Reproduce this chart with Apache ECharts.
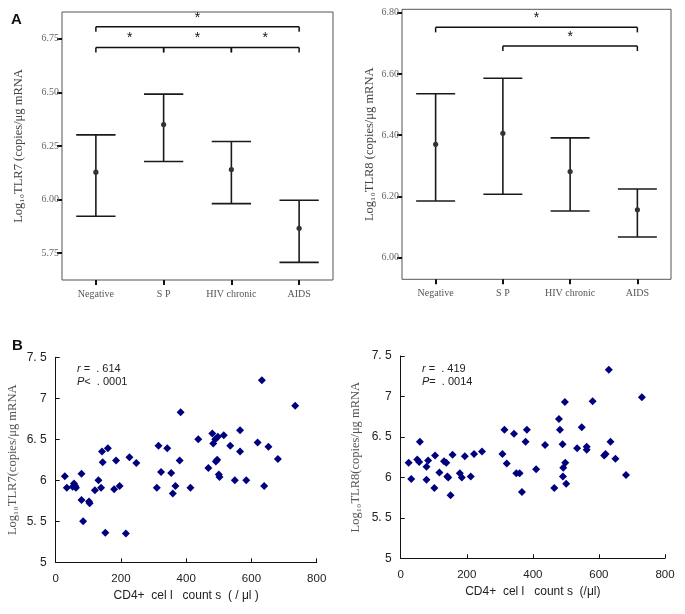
<!DOCTYPE html>
<html>
<head>
<meta charset="utf-8">
<script src="https://cdn.jsdelivr.net/npm/echarts@6/dist/echarts.min.js"></script>
<style>
html,body{margin:0;padding:0;background:#fff;}
#chart{width:685px;height:614px;}
</style>
</head>
<body>
<div id="chart"></div>
<script>
// ---------- Panel A data ----------
const categories = ['Negative', 'S P', 'HIV chronic', 'AIDS'];
const tlr7Mean  = [6.128, 6.350, 6.140, 5.866];
const tlr7Lower = [5.922, 6.178, 5.981, 5.707];
const tlr7Upper = [6.302, 6.492, 6.271, 5.997];
const tlr8Mean  = [6.370, 6.406, 6.281, 6.156];
const tlr8Lower = [6.185, 6.207, 6.152, 6.067];
const tlr8Upper = [6.535, 6.586, 6.391, 6.224];
// significance brackets: [fromCategory, toCategory, level]
const tlr7Brackets = [[0, 3, 6.806], [0, 1, 6.71], [1, 2, 6.71], [2, 3, 6.71]];
const tlr8Brackets = [[0, 3, 6.752], [1, 3, 6.691]];
const tlr7TickValues = [5.75, 6.00, 6.25, 6.50, 6.75];
const tlr8TickValues = [6.00, 6.20, 6.40, 6.60, 6.80];

// ---------- Panel B data: [CD4 count, log10 TLR] ----------
const tlr7Scatter = [
  [28,6.05],[34,5.91],[52,5.92],[56,5.96],[60,5.93],[62,5.91],[79,6.08],[79,5.76],[84,5.50],
  [102,5.74],[104,5.72],[120,5.88],[131,6.00],[139,5.91],[142,6.35],[144,6.22],[152,5.36],
  [160,6.39],[179,5.89],[185,6.24],[196,5.93],[215,5.35],[226,6.28],[247,6.21],[310,5.91],
  [315,6.42],[323,6.10],[342,6.39],[354,6.09],[359,5.84],[367,5.93],[380,6.24],[383,6.83],
  [413,5.91],[437,6.50],[468,6.15],[480,6.57],[483,6.45],[489,6.50],[491,6.23],[495,6.25],
  [497,6.53],[500,6.07],[502,6.04],[515,6.55],[535,6.42],[549,6.00],[565,6.61],[565,6.35],
  [584,6.00],[619,6.46],[632,7.22],[639,5.93],[652,6.41],[681,6.26],[734,6.91]
];
const tlr8Scatter = [
  [24,6.18],[32,5.98],[50,6.22],[56,6.19],[58,6.44],[78,6.13],[78,5.97],[83,6.21],[102,5.87],
  [104,6.27],[117,6.06],[131,6.20],[138,6.18],[141,6.01],[144,6.00],[151,5.78],[157,6.28],
  [179,6.05],[185,6.00],[194,6.26],[212,6.01],[222,6.29],[246,6.32],[308,6.29],[314,6.59],
  [321,6.17],[343,6.54],[350,6.05],[360,6.05],[367,5.82],[378,6.44],[382,6.59],[410,6.10],
  [437,6.40],[465,5.87],[479,6.72],[482,6.59],[490,6.41],[491,6.01],[492,6.12],[497,6.93],
  [498,6.18],[501,5.92],[534,6.36],[548,6.62],[563,6.38],[563,6.34],[581,6.94],[616,6.27],
  [620,6.29],[630,7.33],[635,6.44],[650,6.23],[682,6.03],[730,6.99]
];
const cd4Ticks = [0, 200, 400, 600, 800];

const serif = "'Liberation Serif','DejaVu Serif',serif";
const sans = "'Liberation Sans',Arial,sans-serif";

function errorBarItem(params, api) {
  const x = api.value(0);
  const pM = api.coord([x, api.value(1)]);
  const pLo = api.coord([x, api.value(2)]);
  const pHi = api.coord([x, api.value(3)]);
  const hw = api.size([1, 0])[0] * 0.29;
  const st = { stroke: '#1a1a1a', lineWidth: 1.6 };
  return {
    type: 'group',
    children: [
      { type: 'line', shape: { x1: pM[0], y1: pHi[1], x2: pM[0], y2: pLo[1] }, style: st },
      { type: 'line', shape: { x1: pM[0] - hw, y1: pHi[1], x2: pM[0] + hw, y2: pHi[1] }, style: st },
      { type: 'line', shape: { x1: pM[0] - hw, y1: pLo[1], x2: pM[0] + hw, y2: pLo[1] }, style: st },
      { type: 'circle', shape: { cx: pM[0], cy: pM[1], r: 2.6 }, style: { fill: '#333' } }
    ]
  };
}

function bracketItem(params, api) {
  const y = api.value(2);
  const p1 = api.coord([api.value(0), y]);
  const p2 = api.coord([api.value(1), y]);
  const st = { stroke: '#111', lineWidth: 1.5 };
  const tick = 5;
  return {
    type: 'group',
    children: [
      { type: 'line', shape: { x1: p1[0], y1: p1[1], x2: p2[0], y2: p2[1] }, style: st },
      { type: 'line', shape: { x1: p1[0], y1: p1[1], x2: p1[0], y2: p1[1] + tick }, style: st },
      { type: 'line', shape: { x1: p2[0], y1: p2[1], x2: p2[0], y2: p2[1] + tick }, style: st },
      { type: 'text', style: { text: '*', x: (p1[0] + p2[0]) / 2, y: p1[1] - 2, align: 'center',
          verticalAlign: 'bottom', fontSize: 14, fontFamily: sans, fill: '#111' } }
    ]
  };
}

function catAxis(gridIndex) {
  return {
    type: 'category', gridIndex, data: categories,
    axisLine: { show: false },
    axisTick: { show: true, alignWithLabel: true, length: 5, lineStyle: { color: '#111', width: 2 } },
    axisLabel: { color: '#555', fontFamily: serif, fontSize: 10, margin: 9 },
    splitLine: { show: false }
  };
}
function valAxisA(gridIndex, min, max, ticks, name, gap) {
  return {
    type: 'value', gridIndex, min, max,
    name, nameLocation: 'middle', nameGap: gap, nameRotate: 90,
    nameTextStyle: { color: '#444', fontFamily: serif, fontSize: 12.5 },
    axisLine: { show: false },
    axisTick: { show: true, length: 5, customValues: ticks, lineStyle: { color: '#111', width: 2 } },
    axisLabel: { customValues: ticks, color: '#666', fontFamily: serif, fontSize: 10, margin: 3,
      formatter: v => v.toFixed(2) },
    splitLine: { show: false }
  };
}
function cd4Axis(gridIndex, name) {
  return {
    type: 'value', gridIndex, min: 0, max: 800, interval: 200,
    name, nameLocation: 'middle', nameGap: 27,
    nameTextStyle: { color: '#222', fontFamily: sans, fontSize: 12 },
    axisLine: { show: true, lineStyle: { color: '#111', width: 1 } },
    axisTick: { show: true, inside: true, length: 4, lineStyle: { color: '#111' } },
    axisLabel: { color: '#222', fontFamily: sans, fontSize: 11.5, margin: 11 },
    splitLine: { show: false }
  };
}
function tlrAxisB(gridIndex, name, gap) {
  return {
    type: 'value', gridIndex, min: 5, max: 7.5, interval: 0.5,
    name, nameLocation: 'middle', nameGap: gap, nameRotate: 90,
    nameTextStyle: { color: '#555', fontFamily: serif, fontSize: 12.5 },
    axisLine: { show: true, lineStyle: { color: '#111', width: 1 } },
    axisTick: { show: true, inside: true, length: 4, lineStyle: { color: '#111' } },
    axisLabel: { color: '#222', fontFamily: sans, fontSize: 12, margin: 9,
      formatter: v => String(v).replace('.', '. ') },
    splitLine: { show: false }
  };
}

const chart = echarts.init(document.getElementById('chart'), null, { renderer: 'canvas' });
chart.setOption({
  backgroundColor: '#fff',
  animation: false,
  grid: [
    { left: 62, top: 12, width: 271, height: 268, show: true, borderColor: '#555', borderWidth: 1, backgroundColor: 'transparent' },
    { left: 402, top: 9.3, width: 269, height: 270, show: true, borderColor: '#555', borderWidth: 1, backgroundColor: 'transparent' },
    { left: 55.7, top: 357.3, width: 261, height: 205 },
    { left: 400.7, top: 356, width: 264.3, height: 202.3 }
  ],
  xAxis: [
    catAxis(0),
    catAxis(1),
    cd4Axis(2, 'CD4+  cel l   count s  ( / μl )'),
    cd4Axis(3, 'CD4+  cel l   count s  (/μl)')
  ],
  yAxis: [
    valAxisA(0, 5.625, 6.875, tlr7TickValues, 'Log₁₀TLR7 (copies/μg mRNA', 37),
    valAxisA(1, 5.929, 6.811, tlr8TickValues, 'Log₁₀TLR8 (copies/μg mRNA', 26),
    tlrAxisB(2, 'Log₁₀TLR7(copies/μg mRNA', 36),
    tlrAxisB(3, 'Log₁₀TLR8(copies/μg mRNA', 38)
  ],
  graphic: [
    { type: 'text', left: 11, top: 12, style: { text: 'A', font: 'bold 15px ' + sans, fill: '#111' } },
    { type: 'text', left: 12, top: 338, style: { text: 'B', font: 'bold 15px ' + sans, fill: '#111' } },
    { type: 'text', left: 77, top: 362, style: { text: '{i|r} =  . 614\n{i|P}<  . 0001', font: '11px ' + sans, fill: '#222', lineHeight: 13,
        rich: { i: { fontStyle: 'italic', fontFamily: sans, fontSize: 11, fill: '#222' } } } },
    { type: 'text', left: 422, top: 362, style: { text: '{i|r} =  . 419\n{i|P}=  . 0014', font: '11px ' + sans, fill: '#222', lineHeight: 13,
        rich: { i: { fontStyle: 'italic', fontFamily: sans, fontSize: 11, fill: '#222' } } } }
  ],
  series: [
    { type: 'custom', xAxisIndex: 0, yAxisIndex: 0, renderItem: errorBarItem,
      data: categories.map((c, i) => [i, tlr7Mean[i], tlr7Lower[i], tlr7Upper[i]]) },
    { type: 'custom', xAxisIndex: 0, yAxisIndex: 0, renderItem: bracketItem, clip: false,
      data: tlr7Brackets },
    { type: 'custom', xAxisIndex: 1, yAxisIndex: 1, renderItem: errorBarItem,
      data: categories.map((c, i) => [i, tlr8Mean[i], tlr8Lower[i], tlr8Upper[i]]) },
    { type: 'custom', xAxisIndex: 1, yAxisIndex: 1, renderItem: bracketItem, clip: false,
      data: tlr8Brackets },
    { type: 'scatter', xAxisIndex: 2, yAxisIndex: 2, symbol: 'diamond', symbolSize: 8,
      itemStyle: { color: '#00007f', opacity: 1 }, data: tlr7Scatter },
    { type: 'scatter', xAxisIndex: 3, yAxisIndex: 3, symbol: 'diamond', symbolSize: 8,
      itemStyle: { color: '#00007f', opacity: 1 }, data: tlr8Scatter }
  ]
});
</script>
</body>
</html>
